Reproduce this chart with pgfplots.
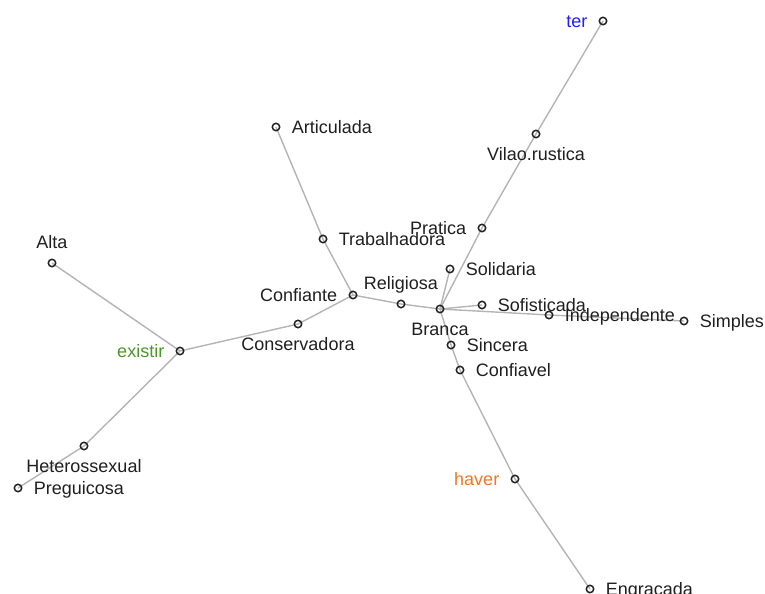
\documentclass[border=0pt]{standalone}
\usepackage{fontspec}
\setmainfont{Liberation Sans}
\usepackage{pgfplots}
\pgfplotsset{compat=1.18}
\usepackage{pgfplotstable}
\definecolor{edgegray}{RGB}{180,180,180}
\definecolor{nodeblk}{RGB}{35,35,35}
\definecolor{terblue}{RGB}{30,30,250}
\definecolor{exgreen}{RGB}{75,150,40}
\definecolor{havorange}{RGB}{240,120,35}
\tikzset{lab/.style={font=\fontsize{18bp}{20bp}\selectfont, text=#1, inner sep=0pt}}

\pgfplotstableread{
x y label
276 127 Articulada
323 239 Trabalhadora
450 269 Solidaria
482 305 Sofisticada
549 315 Independente
684 321 Simples
451 345 Sincera
460 370 Confiavel
590 589 Engracada
18 488 Preguicosa
}\rightlab
\pgfplotstableread{
x y label
482 228 Pratica
353 295 Confiante
}\leftlab
\pgfplotstableread{
x y label
536 134 Vilao.rustica
440 309 Branca
298 324 Conservadora
84 446 Heterossexual
}\belowlab
\pgfplotstableread{
x y label
52 263 Alta
401 304 Religiosa
}\abovelab
\pgfplotstableread{
x y label
603 21 ter
}\terlab
\pgfplotstableread{
x y label
180 351 existir
}\exlab
\pgfplotstableread{
x y label
515 479 haver
}\havlab

\begin{document}
\begin{tikzpicture}
\begin{axis}[name=ax, scale only axis, width=765bp, height=594bp,
  xmin=0, xmax=765, ymin=0, ymax=594, y dir=reverse, hide axis, clip=false,
  nodestyle/.style={only marks, mark=o, mark size=3.7bp,
    mark options={draw=nodeblk, line width=1.5bp, fill=white},
    nodes near coords, point meta=explicit symbolic}]
% edges
\addplot[edgegray, line width=1.4bp] coordinates {(603,21) (536,134) (482,228) (440,309) (451,345) (460,370) (515,479) (590,589)};
\addplot[edgegray, line width=1.4bp] coordinates {(276,127) (323,239) (353,295) (401,304) (440,309)};
\addplot[edgegray, line width=1.4bp] coordinates {(52,263) (180,351) (298,324) (353,295)};
\addplot[edgegray, line width=1.4bp] coordinates {(180,351) (84,446) (18,488)};
\addplot[edgegray, line width=1.4bp] coordinates {(450,269) (440,309) (482,305)};
\addplot[edgegray, line width=1.4bp] coordinates {(440,309) (549,315) (684,321)};
% nodes and labels
\addplot[nodestyle, every node near coord/.style={lab=black!88, anchor=base west, xshift=15bp, yshift=-6.4bp}] table[x=x, y=y, meta=label] {\rightlab};
\addplot[nodestyle, every node near coord/.style={lab=black!88, anchor=base east, xshift=-15bp, yshift=-6.4bp}] table[x=x, y=y, meta=label] {\leftlab};
\addplot[nodestyle, every node near coord/.style={lab=black!88, anchor=base, yshift=-26.4bp}] table[x=x, y=y, meta=label] {\belowlab};
\addplot[nodestyle, every node near coord/.style={lab=black!88, anchor=base, yshift=14.4bp}] table[x=x, y=y, meta=label] {\abovelab};
\addplot[nodestyle, every node near coord/.style={lab=terblue, anchor=base east, xshift=-15bp, yshift=-6.4bp}] table[x=x, y=y, meta=label] {\terlab};
\addplot[nodestyle, every node near coord/.style={lab=exgreen, anchor=base east, xshift=-15bp, yshift=-6.4bp}] table[x=x, y=y, meta=label] {\exlab};
\addplot[nodestyle, every node near coord/.style={lab=havorange, anchor=base east, xshift=-15bp, yshift=-6.4bp}] table[x=x, y=y, meta=label] {\havlab};
\end{axis}
\pgfresetboundingbox
\path (ax.south west) rectangle (ax.north east);
\end{tikzpicture}
\end{document}
